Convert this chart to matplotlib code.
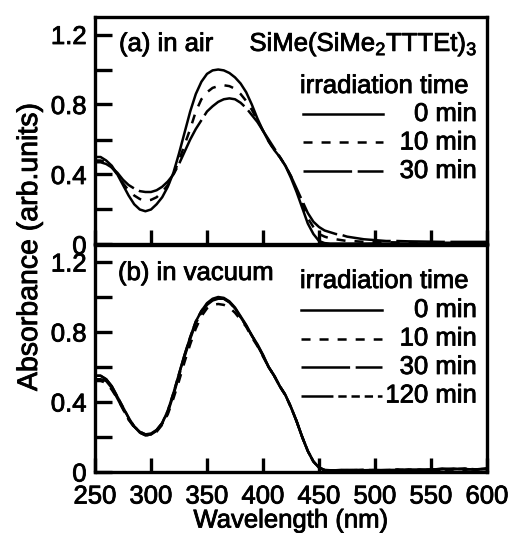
import matplotlib
matplotlib.use("Agg")
import matplotlib.pyplot as plt
import matplotlib.patheffects as pe
import numpy as np

plt.rcParams['font.family'] = ['Liberation Sans', 'DejaVu Sans']
plt.rcParams['lines.scale_dashes'] = False
plt.rcParams['mathtext.fontset'] = 'custom'
plt.rcParams['mathtext.rm'] = 'Liberation Sans'

# wavelength grid (nm)
wl = [250, 255, 260, 265, 270, 275, 280, 285, 290, 295,
      300, 305, 310, 315, 320, 325, 330, 335, 340, 345,
      350, 355, 360, 365, 370, 375, 380, 385, 390, 395,
      400, 405, 410, 415, 420, 425, 430, 435, 440, 445,
      450, 455, 460, 465, 470, 475, 480,
      490, 500, 510, 520, 530, 540, 550, 560, 570, 580, 590, 600]

# (a) in air
air_0 = [0.50, 0.50, 0.48, 0.45, 0.40, 0.34, 0.28, 0.23, 0.20, 0.19,
         0.20, 0.23, 0.27, 0.33, 0.41, 0.52, 0.64, 0.76, 0.86, 0.93,
         0.975, 0.995, 1.00, 0.995, 0.98, 0.955, 0.92, 0.87, 0.80, 0.72,
         0.65, 0.59, 0.54, 0.50, 0.45, 0.38, 0.30, 0.21, 0.12, 0.06,
         0.02, 0.008, 0.005, 0.005, 0.005, 0.005, 0.005,
         0.005, 0.006, 0.005, 0.006, 0.005, 0.006, 0.005, 0.006, 0.005, 0.006, 0.005, 0.006]
air_10 = [0.48, 0.48, 0.47, 0.44, 0.40, 0.35, 0.31, 0.28, 0.26, 0.25,
          0.255, 0.27, 0.30, 0.34, 0.40, 0.48, 0.57, 0.66, 0.76, 0.83,
          0.87, 0.895, 0.905, 0.91, 0.905, 0.89, 0.86, 0.82, 0.77, 0.71,
          0.65, 0.59, 0.54, 0.50, 0.45, 0.39, 0.31, 0.23, 0.15, 0.10,
          0.06, 0.045, 0.035, 0.03, 0.025, 0.02, 0.02,
          0.015, 0.015, 0.013, 0.012, 0.012, 0.011, 0.011, 0.01, 0.01, 0.01, 0.01, 0.01]
air_30 = [0.47, 0.47, 0.46, 0.44, 0.41, 0.37, 0.34, 0.32, 0.305, 0.30,
          0.30, 0.31, 0.33, 0.36, 0.40, 0.46, 0.53, 0.60, 0.66, 0.71,
          0.76, 0.79, 0.815, 0.83, 0.835, 0.83, 0.81, 0.78, 0.74, 0.70,
          0.65, 0.60, 0.55, 0.50, 0.45, 0.39, 0.32, 0.25, 0.18, 0.13,
          0.10, 0.08, 0.07, 0.06, 0.055, 0.045, 0.04,
          0.03, 0.025, 0.02, 0.02, 0.018, 0.017, 0.016, 0.015, 0.015, 0.015, 0.015, 0.015]

# (b) in vacuum
vac_0 = [0.55, 0.55, 0.53, 0.49, 0.43, 0.37, 0.31, 0.26, 0.23, 0.215,
         0.215, 0.24, 0.28, 0.35, 0.45, 0.56, 0.67, 0.77, 0.86, 0.92,
         0.965, 0.99, 1.00, 0.995, 0.975, 0.94, 0.89, 0.84, 0.78, 0.73,
         0.67, 0.60, 0.55, 0.49, 0.44, 0.37, 0.29, 0.20, 0.12, 0.06,
         0.025, 0.01, 0.01, 0.008, 0.01, 0.009, 0.01,
         0.01, 0.012, 0.008, 0.01, 0.015, 0.01, 0.012, 0.02, 0.015, 0.018, 0.012, 0.02]
vac_10 = [0.52, 0.52, 0.51, 0.47, 0.42, 0.36, 0.30, 0.255, 0.225, 0.21,
          0.21, 0.23, 0.27, 0.33, 0.42, 0.52, 0.63, 0.73, 0.82, 0.89,
          0.935, 0.955, 0.96, 0.955, 0.94, 0.91, 0.87, 0.83, 0.77, 0.72,
          0.66, 0.60, 0.55, 0.49, 0.44, 0.37, 0.29, 0.20, 0.12, 0.06,
          0.025, 0.01, 0.008, 0.008, 0.01, 0.008, 0.01,
          0.012, 0.01, 0.01, 0.012, 0.01, 0.014, 0.012, 0.015, 0.015, 0.012, 0.018, 0.015]
vac_30 = [0.53, 0.53, 0.52, 0.48, 0.42, 0.36, 0.30, 0.26, 0.225, 0.21,
          0.215, 0.235, 0.275, 0.34, 0.44, 0.55, 0.66, 0.76, 0.85, 0.91,
          0.955, 0.98, 0.99, 0.99, 0.97, 0.935, 0.885, 0.835, 0.78, 0.725,
          0.665, 0.60, 0.55, 0.49, 0.44, 0.37, 0.29, 0.20, 0.12, 0.06,
          0.025, 0.012, 0.01, 0.01, 0.012, 0.01, 0.012,
          0.01, 0.01, 0.012, 0.01, 0.012, 0.015, 0.01, 0.015, 0.02, 0.015, 0.015, 0.02]
vac_120 = [0.55, 0.55, 0.53, 0.49, 0.43, 0.37, 0.31, 0.26, 0.23, 0.215,
           0.22, 0.24, 0.28, 0.35, 0.45, 0.56, 0.67, 0.77, 0.86, 0.92,
           0.96, 0.985, 0.995, 0.99, 0.97, 0.935, 0.885, 0.835, 0.78, 0.725,
           0.665, 0.60, 0.55, 0.49, 0.44, 0.37, 0.29, 0.20, 0.12, 0.06,
           0.025, 0.01, 0.01, 0.01, 0.01, 0.012, 0.01,
           0.012, 0.01, 0.01, 0.015, 0.01, 0.012, 0.015, 0.012, 0.015, 0.02, 0.015, 0.018]

labels_a = ['0 min', '10 min', '30 min']
labels_b = ['0 min', '10 min', '30 min', '120 min']
xticks = [250, 300, 350, 400, 450, 500, 550, 600]
yticks_major = [0, 0.4, 0.8, 1.2]
yticks_minor = [0.2, 0.6, 1.0]

styles = [
    dict(linestyle='-'),
    dict(dashes=(6.5, 6.5)),
    dict(dashes=(35, 4)),
    dict(dashes=(23, 3.5, 6, 3.5, 6, 3.5, 6, 3.5)),
]

FS = 18.5
LW = 1.8
BOLD = [pe.withStroke(linewidth=0.6, foreground='black')]

fig = plt.figure(figsize=(5.12, 5.33), dpi=100)
W, H = 512, 533
left, right = 95 / W, 487 / W
ax_b = fig.add_axes([left, (H - 472) / H, right - left, 227.5 / H])
ax_a = fig.add_axes([left, (H - 244.5) / H, right - left, 227.5 / H])


def setup(ax, show_x):
    ax.set_xlim(250, 600)
    ax.set_ylim(0, 1.3)
    for s in ax.spines.values():
        s.set_linewidth(2.4)
    ax.set_xticks(xticks)
    ax.set_yticks(yticks_major)
    ax.set_yticklabels(['0', '0.4', '0.8', '1.2'])
    ax.set_yticks(yticks_minor, minor=True)
    ax.tick_params(axis='y', which='both', direction='in', length=12, width=2.4,
                   labelsize=FS, pad=6)
    ax.tick_params(axis='x', which='both', direction='in', length=10, width=2.4,
                   labelsize=FS, pad=9, labelbottom=show_x)
    for t in ax.get_xticklabels() + ax.get_yticklabels():
        t.set_path_effects(BOLD)


setup(ax_a, False)
setup(ax_b, True)

for y, lab, st in zip([air_0, air_10, air_30], labels_a, styles):
    ax_a.plot(wl, y, color='black', lw=LW, **st)
for y, lab, st in zip([vac_0, vac_10, vac_30, vac_120], labels_b, styles):
    ax_b.plot(wl, y, color='black', lw=LW, **st)


def ax_xy(px, py, top_px):
    x = (px - 95) / (487 - 95)
    y = 1 - (py - top_px) / 227.5
    return x, y


def txt(ax, px, py, top, s, ha):
    x, y = ax_xy(px, py, top)
    ax.text(x, y, s, transform=ax.transAxes, fontsize=FS, va='center', ha=ha,
            path_effects=BOLD)


# panel (a)
TA = 17
txt(ax_a, 119, 44, TA, '(a) in air', 'left')
txt(ax_a, 478, 44, TA, r'SiMe(SiMe$_2$TTTEt)$_3$', 'right')
txt(ax_a, 469, 86, TA, 'irradiation time', 'right')
for i, (lab, st) in enumerate(zip(labels_a, styles)):
    py = 114 + i * 28.5
    x0, yy = ax_xy(303, py, TA)
    x1, _ = ax_xy(383, py, TA)
    ax_a.plot([x0, x1], [yy, yy], transform=ax_a.transAxes, color='black', lw=LW, **st)
    txt(ax_a, 477, py, TA, lab, 'right')

# panel (b)
TB = 244.5
txt(ax_b, 118, 273, TB, '(b) in vacuum', 'left')
txt(ax_b, 469, 281, TB, 'irradiation time', 'right')
for i, (lab, st) in enumerate(zip(labels_b, styles)):
    py = 310 + i * 28.5
    x0, yy = ax_xy(301, py, TB)
    x1, _ = ax_xy(382, py, TB)
    ax_b.plot([x0, x1], [yy, yy], transform=ax_b.transAxes, color='black', lw=LW, **st)
    txt(ax_b, 477, py, TB, lab, 'right')

ax_b.set_xlabel('Wavelength (nm)', fontsize=FS, labelpad=0, path_effects=BOLD)
fig.text(30 / W, 1 - 247 / H, 'Absorbance (arb.units)', rotation=90, fontsize=20.5,
         va='center', ha='center', path_effects=BOLD)

fig.savefig('out.png', dpi=100)
